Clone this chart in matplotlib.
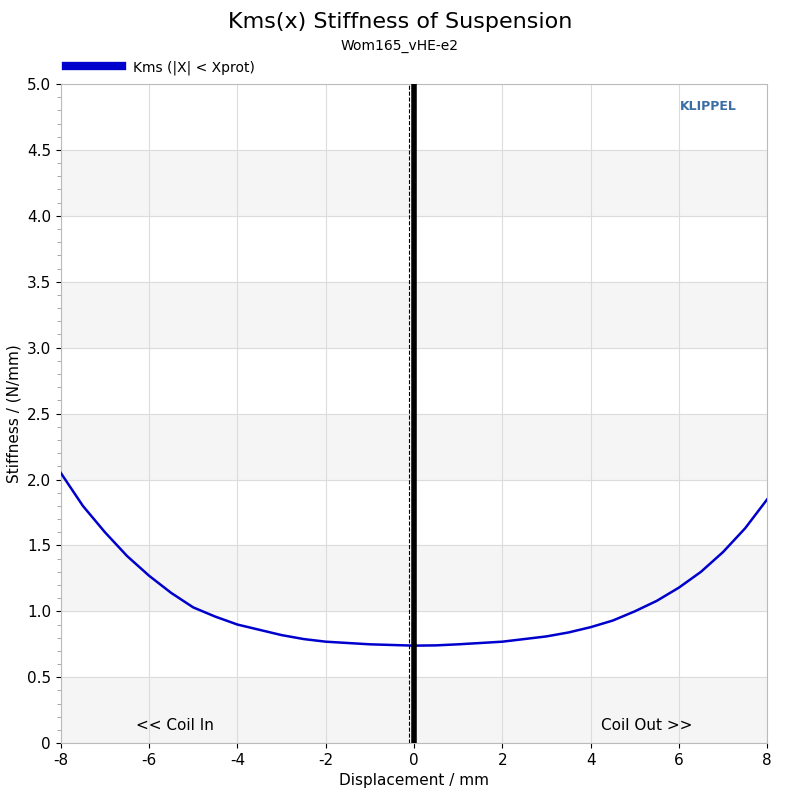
import numpy as np
import matplotlib.pyplot as plt
from matplotlib.ticker import MultipleLocator

plt.rcParams["axes.unicode_minus"] = False

# values
disp = [-8, -7.5, -7, -6.5, -6, -5.5, -5, -4.5, -4, -3.5, -3, -2.5, -2, -1.5, -1, -0.5,
        0, 0.5, 1, 1.5, 2, 2.5, 3, 3.5, 4, 4.5, 5, 5.5, 6, 6.5, 7, 7.5, 8]
kms = [2.05, 1.80, 1.60, 1.42, 1.27, 1.14, 1.03, 0.96, 0.90, 0.86, 0.82, 0.79, 0.77, 0.76, 0.75, 0.745,
       0.74, 0.742, 0.75, 0.76, 0.77, 0.79, 0.81, 0.84, 0.88, 0.93, 1.00, 1.08, 1.18, 1.30, 1.45, 1.63, 1.85]

fig = plt.figure(figsize=(8, 8), dpi=100)
ax = fig.add_axes([0.076, 0.071, 0.883, 0.824])

for lo in np.arange(0, 5, 1.0):
    ax.axhspan(lo, lo + 0.5, color="#f5f5f5", zorder=0)
ax.grid(True, color="#dcdcdc", lw=0.8, zorder=1)

ax.plot(disp, kms, color="#0000cc", lw=1.8, zorder=3, label="Kms (|X| < Xprot)")
ax.axvline(0, color="black", lw=4, zorder=4)
ax.axvline(-0.12, color="black", lw=0.8, ls="--", zorder=4)

ax.set_xlim(-8, 8)
ax.set_ylim(0, 5)
ax.xaxis.set_major_locator(MultipleLocator(2))
ax.yaxis.set_major_locator(MultipleLocator(0.5))
ax.yaxis.set_minor_locator(MultipleLocator(0.1))
ax.set_yticklabels([f"{v:.1f}" if v > 0 else "0" for v in ax.get_yticks()])
ax.tick_params(labelsize=11, colors="black")
ax.tick_params(axis="y", which="minor", length=3, color="#999999")
for s in ax.spines.values():
    s.set_color("#bbbbbb")

ax.set_xlabel("Displacement / mm", fontsize=11)
ax.set_ylabel("Stiffness / (N/mm)", fontsize=11)
ax.text(-6.3, 0.1, "<< Coil In", fontsize=11)
ax.text(6.3, 0.1, "Coil Out >>", fontsize=11, ha="right")
ax.text(7.3, 4.8, "KLIPPEL", fontsize=9, color="#3a6ea5", ha="right", fontweight="bold")

fig.text(0.5, 0.965, "Kms(x) Stiffness of Suspension", ha="center", fontsize=16)
fig.text(0.5, 0.938, "Wom165_vHE-e2", ha="center", fontsize=10)
ax.legend(loc="lower left", bbox_to_anchor=(-0.01, 0.995), frameon=False, fontsize=10,
          handlelength=4)
for l in ax.get_legend().get_lines():
    l.set_linewidth(6)

fig.savefig("out.png")
